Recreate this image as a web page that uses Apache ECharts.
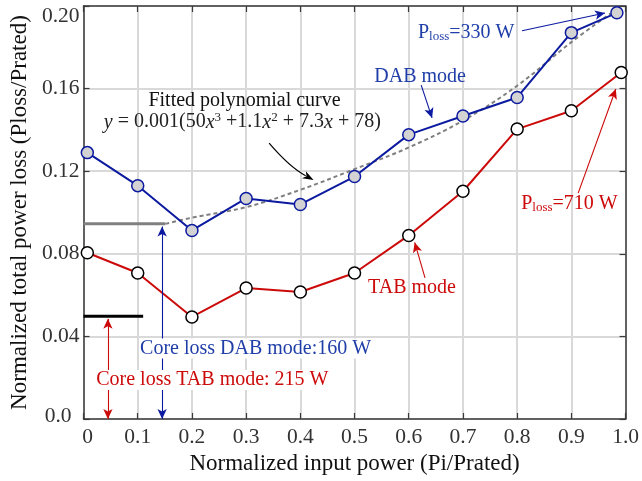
<!DOCTYPE html>
<html><head><meta charset="utf-8">
<script src="https://cdn.jsdelivr.net/npm/echarts@6/dist/echarts.min.js"></script>
<style>html,body{margin:0;padding:0;background:#fff}#c{width:642px;height:481px}</style>
</head><body><div id="c"></div>
<script>
// ---- data ----
const dabX = [0.007, 0.1, 0.2, 0.3, 0.4, 0.5, 0.6, 0.7, 0.8, 0.9, 0.984];
const dabY = [0.129, 0.113, 0.0913, 0.1068, 0.1039, 0.1174, 0.1377, 0.1467, 0.1557, 0.1871, 0.1967];
const tabX = [0.007, 0.1, 0.2, 0.3, 0.4, 0.5, 0.6, 0.7, 0.8, 0.9, 0.992];
const tabY = [0.0805, 0.0707, 0.0494, 0.0634, 0.0615, 0.0707, 0.0889, 0.1103, 0.1404, 0.1493, 0.1678];
const fitX = [0.151, 0.2, 0.3, 0.4, 0.5, 0.6, 0.7, 0.8, 0.9, 0.972];
const fitY = [0.0945, 0.0975, 0.1026, 0.111, 0.121, 0.1315, 0.1445, 0.1614, 0.1825, 0.1963];
const coreDabX = [0, 0.151];
const coreDabY = [0.0945, 0.0945];
const coreTabX = [0, 0.11];
const coreTabY = [0.0497, 0.0497];
const xTicks = ['0', '0.1', '0.2', '0.3', '0.4', '0.5', '0.6', '0.7', '0.8', '0.9', '1.0'];
const yTicks = ['0.0', '0.04', '0.08', '0.12', '0.16', '0.20'];

const FONT = "'Liberation Serif', 'Times New Roman', serif";
const BLUE = '#0c1aa0';
const TBLUE = '#1f3ea8';
const RED = '#cc0a0a';
const TICKFS = 21.5;
const NAMEFS = 23;

const zip = (a, b) => a.map((v, i) => [v, b[i]]);

// straight arrows (data coordinates)
const arrows = [
  {from: [0.145, 0.0932], to: [0.145, 0.0], both: true, color: BLUE},
  {from: [0.045, 0.0485], to: [0.045, 0.0], both: true, color: RED},
  {from: [0.623, 0.1617], to: [0.643, 0.1458], color: BLUE},
  {from: [0.809, 0.1880], to: [0.962, 0.1966], color: BLUE},
  {from: [0.9126, 0.1094], to: [0.982, 0.1598], color: RED},
  {from: [0.630, 0.0683], to: [0.611, 0.0855], color: RED}
];
// curved arrow pointing at the fitted curve (start, control, tip)
const curveArrow = {from: [0.3424, 0.1336], ctrl: [0.3798, 0.1221], to: [0.4244, 0.1157]};

const chart = echarts.init(document.getElementById('c'), null, {renderer: 'canvas'});

const axisLineStyle = {color: '#3a3a3a', width: 1.5};
const tickStyle = {show: true, inside: true, length: 6, lineStyle: {color: '#3a3a3a', width: 1.2}};
const option = {
  animation: false,
  backgroundColor: '#fff',
  grid: {left: 82, right: 11, top: 6, bottom: 62},
  xAxis: [{
    type: 'value', min: 0, max: 1, interval: 0.1, position: 'bottom',
    axisLine: {show: true, onZero: false, lineStyle: axisLineStyle},
    axisTick: tickStyle,
    axisLabel: {
      fontFamily: FONT, fontSize: TICKFS, color: '#333', margin: 7,
      formatter: (v) => { const i = Math.round(v * 10); return i === 0 ? '{z|' + xTicks[i] + '}' : xTicks[i]; },
      rich: {z: {fontFamily: FONT, fontSize: TICKFS, color: '#333', padding: [0, 0, 0, 8]}}
    },
    splitLine: {show: true, lineStyle: {color: '#d9d9d9', width: 2}},
    name: 'Normalized input power (Pi/Prated)', nameLocation: 'middle', nameGap: 33,
    nameTextStyle: {fontFamily: FONT, fontSize: NAMEFS, color: '#111'}
  }, {
    type: 'value', min: 0, max: 1, interval: 0.1, position: 'top',
    axisLine: {show: true, onZero: false, lineStyle: axisLineStyle},
    axisTick: tickStyle,
    axisLabel: {show: false}, splitLine: {show: false}
  }],
  yAxis: [{
    type: 'value', min: 0, max: 0.2, interval: 0.04, position: 'left',
    axisLine: {show: true, onZero: false, lineStyle: axisLineStyle},
    axisTick: tickStyle,
    axisLabel: {
      fontFamily: FONT, fontSize: TICKFS, color: '#333', margin: 4,
      formatter: (v) => {
        const i = Math.round(v / 0.04);
        if (i === 5) return '{t|' + yTicks[i] + '}';
        if (i === 0) return '{z|' + yTicks[i] + '}';
        return yTicks[i];
      },
      rich: {
        t: {fontFamily: FONT, fontSize: TICKFS, color: '#333', padding: [20, 0, 0, 0]},
        z: {fontFamily: FONT, fontSize: TICKFS, color: '#333', padding: [0, 8, 6, 0]}
      }
    },
    splitLine: {show: true, lineStyle: {color: '#d9d9d9', width: 2}},
    name: 'Normalized total power loss (Ploss/Prated)', nameLocation: 'middle', nameGap: 48,
    nameTextStyle: {fontFamily: FONT, fontSize: NAMEFS, color: '#111'}
  }, {
    type: 'value', min: 0, max: 0.2, interval: 0.04, position: 'right',
    axisLine: {show: true, onZero: false, lineStyle: axisLineStyle},
    axisTick: tickStyle,
    axisLabel: {show: false}, splitLine: {show: false}
  }],
  series: [
    {
      name: 'Fitted', type: 'line', data: zip(fitX, fitY), smooth: 0.4, showSymbol: false, symbol: 'none',
      lineStyle: {color: '#7f7f7f', width: 2, type: [4, 3]}, z: 2, silent: true
    },
    {
      name: 'CoreDAB', type: 'line', data: zip(coreDabX, coreDabY), symbol: 'none',
      lineStyle: {color: '#808080', width: 3}, z: 2, silent: true
    },
    {
      name: 'CoreTAB', type: 'line', data: zip(coreTabX, coreTabY), symbol: 'none',
      lineStyle: {color: '#000', width: 3}, z: 2, silent: true
    },
    {
      name: 'DAB mode', type: 'line', data: zip(dabX, dabY), symbol: 'circle', symbolSize: 12,
      lineStyle: {color: BLUE, width: 2}, itemStyle: {color: '#d3d3d3', borderColor: BLUE, borderWidth: 1.5}, z: 4
    },
    {
      name: 'TAB mode', type: 'line', data: zip(tabX, tabY), symbol: 'circle', symbolSize: 12,
      lineStyle: {color: RED, width: 2}, itemStyle: {color: '#fff', borderColor: '#000', borderWidth: 1.5}, z: 4
    },
    {
      name: 'arrows', type: 'line', data: [], silent: true, z: 3,
      markLine: {
        silent: true, animation: false, symbolSize: [7, 10],
        label: {show: false},
        data: arrows.map(a => [
          {coord: a.from, symbol: a.both ? 'arrow' : 'none', lineStyle: {color: a.color, width: 1.1, type: 'solid'}},
          {coord: a.to, symbol: 'arrow'}
        ])
      }
    }
  ]
};
chart.setOption(option);

const px = (c) => chart.convertToPixel({xAxisIndex: 0, yAxisIndex: 0}, c);

// text annotations anchored to data coordinates
const texts = [
  {at: [0.297, 0.1541], text: 'Fitted polynomial curve', color: '#111'},
  {at: [0.293, 0.1440], text: '{i|y} = 0.001(50{i|x}{s|3} +1.1{i|x}{s|2} + 7.3{i|x} + 78)', color: '#222'},
  {at: [0.621, 0.1658], text: 'DAB mode', color: TBLUE},
  {at: [0.706, 0.1876], text: '{b|P}{s|loss}{b|=330 W}', color: TBLUE},
  {at: [0.8965, 0.1045], text: '{b|P}{s|loss}{b|=710 W}', color: RED},
  {at: [0.606, 0.0636], text: 'TAB mode', color: RED},
  {at: [0.3175, 0.0342], text: 'Core loss DAB mode:160 W', color: TBLUE, bg: true},
  {at: [0.2377, 0.0189], text: 'Core loss TAB mode: 215 W', color: RED, bg: true}
];
const graphics = texts.map(t => {
  const p = px(t.at);
  return {
    type: 'text', x: p[0], y: p[1], z: 100,
    style: {
      text: t.text, fill: t.color, font: '20px ' + FONT, align: 'center', verticalAlign: 'middle',
      backgroundColor: t.bg ? '#fff' : undefined, padding: t.bg ? [0, 1] : 0,
      rich: {
        i: {fontFamily: FONT, fontSize: 20, fontStyle: 'italic', fill: t.color, lineHeight: 22, verticalAlign: 'bottom'},
        s: {fontFamily: FONT, fontSize: 13, fill: t.color, lineHeight: 22, verticalAlign: t.text.indexOf('loss') >= 0 ? 'bottom' : 'top'},
        b: {fontFamily: FONT, fontSize: 20, fill: t.color, lineHeight: 22, verticalAlign: 'bottom'}
      }
    }
  };
});

// curved arrow
const s = px(curveArrow.from), c = px(curveArrow.ctrl), e = px(curveArrow.to);
const dx = e[0] - c[0], dy = e[1] - c[1], L = Math.hypot(dx, dy);
const ux = dx / L, uy = dy / L, head = 11, hw = 4;
const bx = e[0] - ux * head, by = e[1] - uy * head;
graphics.push({
  type: 'bezierCurve', z: 50, silent: true,
  shape: {x1: s[0], y1: s[1], cpx1: c[0], cpy1: c[1], x2: bx + ux * 2, y2: by + uy * 2},
  style: {stroke: '#000', lineWidth: 1.2, fill: null}
});
graphics.push({
  type: 'polygon', z: 50, silent: true,
  shape: {points: [[e[0], e[1]], [bx - uy * hw, by + ux * hw], [bx + ux * 3, by + uy * 3], [bx + uy * hw, by - ux * hw]]},
  style: {fill: '#000'}
});
chart.setOption({graphic: graphics});
</script></body></html>
